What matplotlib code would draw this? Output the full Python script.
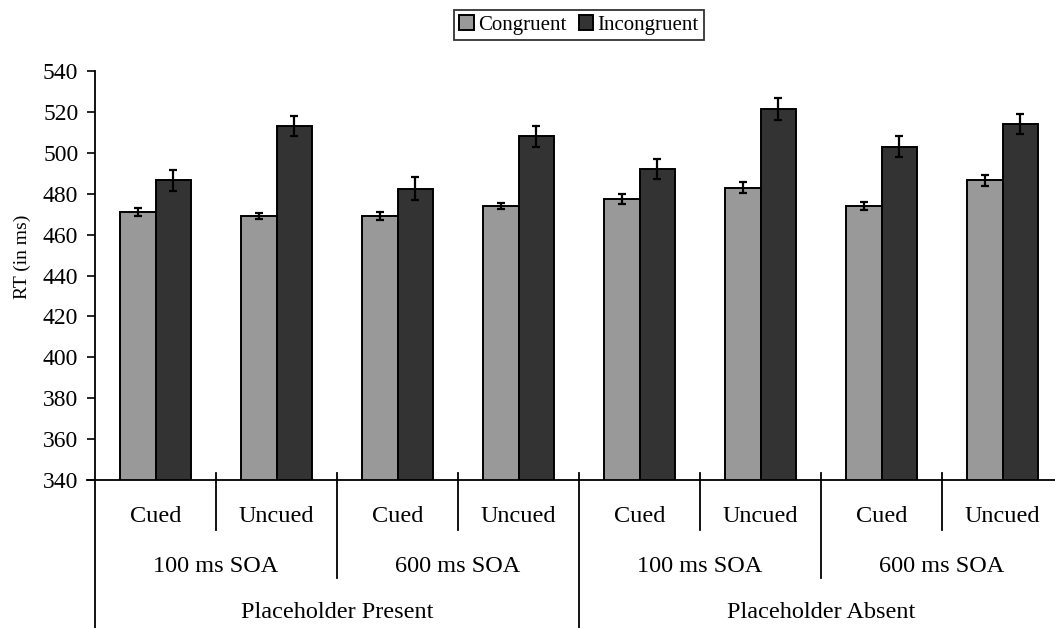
import numpy as np
import matplotlib.pyplot as plt
import matplotlib.transforms as mtransforms

plt.rcParams['font.family'] = ['Liberation Serif', 'DejaVu Serif']

# Mean RTs and error bars per condition
cue_labels = ['Cued', 'Uncued', 'Cued', 'Uncued', 'Cued', 'Uncued', 'Cued', 'Uncued']
soa_labels = ['100 ms SOA', '600 ms SOA', '100 ms SOA', '600 ms SOA']
placeholder_labels = ['Placeholder Present', 'Placeholder Absent']

congruent = [471, 469, 469, 474, 477.5, 483, 474, 486.5]
incongruent = [486.5, 513, 482.5, 508, 492, 521.5, 503, 514]
congruent_err = [2, 1.5, 2, 1.5, 2.5, 2.5, 2, 2.5]
incongruent_err = [5, 5, 5.5, 5, 5, 5.5, 5, 5]

W, H = 1055, 628
fig = plt.figure(figsize=(W / 100, H / 100), dpi=100)
# plot area runs past the right edge (last category is cut off)
ax = fig.add_axes([95 / W, 148 / H, 968 / W, 409 / H])

n = len(congruent)
x = np.arange(n) + 0.5
w = 0.29

ax.bar(x - w / 2, congruent, w, color='#999999', edgecolor='black',
       linewidth=1.4, label='Congruent', zorder=2)
ax.bar(x + w / 2, incongruent, w, color='#333333', edgecolor='black',
       linewidth=1.4, label='Incongruent', zorder=2)
ax.errorbar(x - w / 2, congruent, yerr=congruent_err, fmt='none', ecolor='black',
            elinewidth=1.6, capsize=3, capthick=1.6, zorder=3)
ax.errorbar(x + w / 2, incongruent, yerr=incongruent_err, fmt='none', ecolor='black',
            elinewidth=1.6, capsize=3, capthick=1.6, zorder=3)

ax.set_xlim(0, n)
ax.set_ylim(340, 540)
ax.set_yticks(np.arange(340, 541, 20))
ax.set_xticks([])
ax.tick_params(axis='y', direction='out', length=6, width=1.2, pad=6, labelsize=17)

for side in ['top', 'right']:
    ax.spines[side].set_visible(False)
ax.spines['left'].set_linewidth(1.3)
ax.spines['bottom'].set_linewidth(1.3)

ax.set_ylabel('RT (in ms)', fontsize=14)
ax.yaxis.set_label_coords(-0.066, 0.545)

# multi-level category axis below the plot
trans = mtransforms.blended_transform_factory(ax.transData, ax.transAxes)
px = 1 / 409
top = 7 * px
line_kw = dict(color='black', linewidth=1.3, transform=trans, clip_on=False)

ax.plot([0, 0], [0, -150 * px], **line_kw)
ax.plot([0, -8 / 121], [0, 0], **line_kw)
for i in range(1, n + 1):
    if i % 4 == 0:
        bottom = -150 * px
    elif i % 2 == 0:
        bottom = -98 * px
    else:
        bottom = -50 * px
    ax.plot([i, i], [top, bottom], **line_kw)

for i, lab in enumerate(cue_labels):
    ax.text(i + 0.5, -37 * px, lab, transform=trans, ha='center', va='center', fontsize=17.5)
for i, lab in enumerate(soa_labels):
    ax.text(2 * i + 1, -87 * px, lab, transform=trans, ha='center', va='center', fontsize=17.5)
for i, lab in enumerate(placeholder_labels):
    ax.text(4 * i + 2, -133 * px, lab, transform=trans, ha='center', va='center', fontsize=17.5)

leg = fig.legend(loc='center', bbox_to_anchor=(579 / W, 1 - 25 / H), ncol=2,
                 frameon=True, fancybox=False, edgecolor='black', fontsize=15,
                 handlelength=0.7, handleheight=0.7, handletextpad=0.2,
                 columnspacing=0.6, borderpad=0.25, borderaxespad=0)
leg.get_frame().set_linewidth(1.3)

fig.savefig('out.png', dpi=100)
